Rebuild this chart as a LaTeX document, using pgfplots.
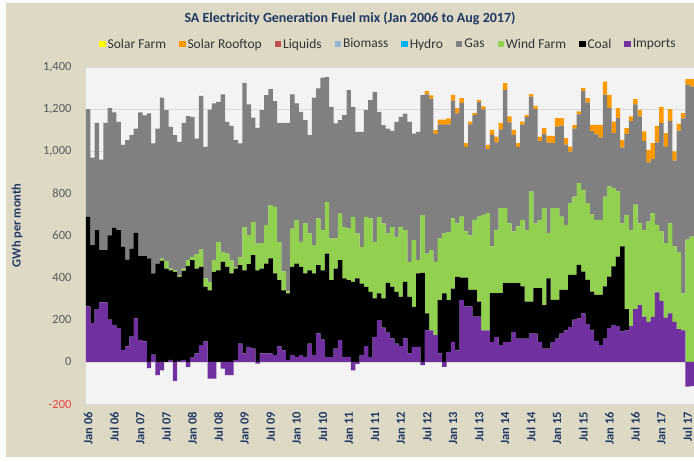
\documentclass[border=0pt]{standalone}
\usepackage{fontspec}
\setmainfont{Carlito}
\usepackage{pgfplots}
\usepackage{pgfplotstable}
\pgfplotsset{compat=1.18}
\definecolor{bgbeige}{RGB}{221,217,196}
\definecolor{plotbg}{RGB}{243,243,243}
\definecolor{navy}{RGB}{31,56,100}
\definecolor{cSolarFarm}{RGB}{255,255,0}
\definecolor{cRoof}{RGB}{255,153,0}
\definecolor{cLiq}{RGB}{192,80,77}
\definecolor{cBio}{RGB}{149,179,215}
\definecolor{cHydro}{RGB}{0,176,240}
\definecolor{cGas}{RGB}{128,128,128}
\definecolor{cWind}{RGB}{146,208,80}
\definecolor{cCoal}{RGB}{0,0,0}
\definecolor{cImp}{RGB}{112,48,160}
\definecolor{tickgray}{RGB}{89,89,89}
\definecolor{negred}{RGB}{232,64,64}

\pgfplotstableread{
m imp coal wind gas hydro bio liq roof sfarm
0 263 426 0 511 0 0 0 0 0
1 185 369 0 416 0 0 0 0 0
2 250 375 0 510 0 0 0 0 0
3 282 248 0 430 0 0 0 0 0
4 282 248 0 605 0 0 0 0 0
5 200 401 0 604 0 0 0 0 0
6 176 460 0 549 0 0 0 0 0
7 160 465 0 515 0 0 0 0 0
8 57 489 0 484 0 0 0 0 0
9 73 413 0 567 0 0 0 0 0
10 120 418 0 538 0 0 0 0 0
11 206 407 0 495 0 0 0 0 0
12 105 397 0 683 0 0 0 0 0
13 97 405 0 668 0 0 0 0 0
14 -30 491 0 689 0 0 0 0 0
15 35 385 0 617 0 0 0 0 0
16 -63 467 0 641 0 0 0 0 0
17 -40 480 10 765 0 0 0 0 0
18 0 443 37 715 0 0 0 0 0
19 10 425 8 673 0 0 0 0 0
20 -90 427 8 641 0 0 0 0 0
21 5 399 6 635 0 0 0 0 0
22 10 422 11 692 0 0 0 0 0
23 -25 454 29 684 0 0 0 0 0
24 20 463 16 664 0 0 0 0 0
25 40 403 67 550 0 0 0 0 0
26 80 371 82 730 0 0 0 0 0
27 97 259 40 625 0 0 0 0 0
28 -79 340 40 818 0 0 0 0 0
29 -79 427 56 744 0 0 0 0 0
30 0 435 135 665 0 0 0 0 0
31 -32 475 47 748 0 0 0 0 0
32 -63 451 63 626 0 0 0 0 0
33 -63 420 63 637 0 0 0 0 0
34 8 435 8 602 0 0 0 0 0
35 87 372 40 538 0 0 0 0 0
36 40 395 206 684 0 0 0 0 0
37 71 393 138 620 0 0 0 0 0
38 63 444 158 495 0 0 0 0 0
39 -8 435 127 549 0 0 0 0 0
40 40 403 122 630 0 0 0 0 0
41 40 427 182 617 0 0 0 0 0
42 40 451 253 551 0 0 0 0 0
43 32 388 316 502 0 0 0 0 0
44 74 314 182 565 0 0 0 0 0
45 55 285 90 705 0 0 0 0 0
46 8 317 10 800 0 0 0 0 0
47 32 419 182 637 0 0 0 0 0
48 24 443 206 554 0 0 0 0 0
49 32 419 119 617 0 0 0 0 0
50 24 396 237 491 0 0 0 0 0
51 87 348 175 466 0 0 0 0 0
52 32 388 134 700 0 0 0 0 0
53 135 324 222 617 0 0 0 0 0
54 106 329 190 725 0 0 0 0 0
55 24 490 246 593 0 0 0 0 0
56 24 364 198 625 0 0 0 0 0
57 63 380 143 546 0 0 0 0 0
58 103 380 221 444 0 0 0 0 0
59 24 372 245 530 0 0 0 0 0
60 24 364 245 657 0 0 0 0 0
61 -40 380 309 522 0 0 0 0 0
62 -10 396 214 482 0 0 0 0 0
63 32 340 174 546 0 0 0 0 0
64 75 281 333 506 0 0 0 0 0
65 24 308 349 562 0 0 0 0 0
66 119 182 269 712 0 0 0 0 0
67 198 127 364 498 0 0 0 0 0
68 163 138 356 467 0 0 0 0 0
69 139 236 235 498 0 0 0 0 0
70 111 245 285 456 0 0 0 0 0
71 87 245 262 546 0 0 0 0 0
72 75 234 332 522 0 0 0 0 0
73 111 269 245 554 0 0 0 0 0
74 40 269 166 665 0 0 0 0 0
75 71 190 317 506 0 0 0 0 0
76 71 349 63 609 0 0 0 0 0
77 -16 422 275 569 0 0 0 0 0
78 150 80 284 756 0 0 0 15 0
79 150 0 380 720 0 0 0 15 0
80 127 0 348 607 0 0 0 18 0
81 40 253 293 542 0 0 0 22 0
82 -24 325 285 515 0 0 0 25 0
83 47 246 324 511 0 0 0 28 0
84 95 253 333 559 0 0 0 28 0
85 55 349 253 523 0 0 0 25 0
86 294 106 290 540 0 0 0 22 0
87 263 137 219 402 0 0 0 17 0
88 263 79 258 528 0 0 0 13 0
89 215 127 332 497 0 0 0 10 0
90 215 71 404 543 0 0 0 11 0
91 150 0 548 501 0 0 0 14 0
92 150 0 556 305 0 0 0 19 0
93 95 231 222 530 0 0 0 24 0
94 119 207 301 415 0 0 0 28 0
95 79 247 404 373 0 0 0 30 0
96 95 279 356 561 0 0 0 32 0
97 95 279 284 479 0 0 0 28 0
98 142 232 245 458 0 0 0 25 0
99 110 264 269 376 0 0 0 19 0
100 110 248 316 452 0 0 0 15 0
101 110 176 341 535 0 0 0 11 0
102 134 152 523 450 0 0 0 12 0
103 134 216 308 542 0 0 0 16 0
104 95 255 324 374 0 0 0 22 0
105 63 207 460 352 0 0 0 28 0
106 63 334 214 430 0 0 0 32 0
107 95 199 436 308 0 0 0 35 0
108 110 184 436 387 0 0 0 40 0
109 134 208 348 432 0 0 0 35 0
110 150 192 308 381 0 0 0 31 0
111 166 247 341 244 0 0 0 24 0
112 200 213 372 322 0 0 0 18 0
113 206 254 389 326 0 0 0 14 0
114 230 199 388 468 0 0 0 15 0
115 180 209 365 477 0 0 0 21 0
116 150 184 366 395 0 0 0 30 0
117 100 218 356 406 0 0 0 45 0
118 80 238 356 391 0 0 0 60 0
119 110 248 427 484 0 0 0 62 0
120 160 245 428 373 0 0 0 62 0
121 175 278 372 261 0 0 0 55 0
122 170 330 309 348 0 0 0 48 0
123 145 403 110 359 0 0 0 37 0
124 150 100 448 384 0 0 0 28 0
125 170 0 457 516 0 0 0 22 0
126 250 0 496 477 0 0 0 24 0
127 270 0 388 507 0 0 0 32 0
128 215 0 412 422 0 0 0 45 0
129 190 0 476 281 0 0 0 60 0
130 214 0 492 257 0 0 0 75 0
131 330 0 320 392 0 0 0 78 0
132 290 0 329 515 0 0 0 75 0
133 210 0 354 457 0 0 0 65 0
134 230 0 428 486 0 0 0 56 0
135 190 0 358 408 0 0 0 43 0
136 155 0 365 578 0 0 0 32 0
137 150 0 175 831 0 0 0 25 0
138 -117 0 580 736 0 0 0 27 0
139 -115 0 595 712 0 0 0 36 0
}\mix

\begin{document}
\begin{tikzpicture}[x=1pt,y=1pt]
\useasboundingbox (0,0) rectangle (694,461);
\fill[white!92!bgbeige] (0,0) rectangle (694,461);
\fill[bgbeige] (6,4) rectangle (694,458);
\node[font=\fontsize{14}{16}\selectfont\bfseries, text=navy] at (350,443) {SA Electricity Generation Fuel mix (Jan 2006 to Aug 2017)};
\begin{axis}[
  at={(86pt,57pt)}, anchor=south west,
  scale only axis, width=608pt, height=337pt,
  xmin=-0.5, xmax=139.5, ymin=-200, ymax=1400,
  ybar stacked, bar width=1.02,
  axis background/.style={fill=plotbg},
  axis line style={draw=none}, tick style={draw=none},
  ymajorgrids, major grid style={draw=black!15, line width=0.6pt},
  ytick={-200,0,200,400,600,800,1000,1200,1400},
  yticklabels={{\textcolor{negred}{-200}},0,200,400,600,800,{1,000},{1,200},{1,400}},
  yticklabel style={font=\fontsize{12.5}{14}\selectfont, text=tickgray, anchor=east, xshift=-11pt},
  xtick={0,6,...,138},
  xticklabels={Jan 06,Jul 06,Jan 07,Jul 07,Jan 08,Jul 08,Jan 09,Jul 09,Jan 10,Jul 10,Jan 11,Jul 11,Jan 12,Jul 12,Jan 13,Jul 13,Jan 14,Jul 14,Jan 15,Jul 15,Jan 16,Jul 16,Jan 17,Jul 17},
  xticklabel style={font=\fontsize{12.5}{14}\selectfont\bfseries, text=navy, rotate=90, anchor=east, inner sep=0pt},
  xticklabel shift=8pt,
  /pgf/number format/assume math mode=true,
  ylabel={GWh per month},
  ylabel style={font=\fontsize{12.5}{14}\selectfont\bfseries, text=navy, at={(axis description cs:-0.113,0.53)}, anchor=center},
  legend style={at={(axis description cs:0.4975,1.068)}, anchor=center, legend columns=9, draw=none, fill=none,
    font=\fontsize{13.5}{15}\selectfont, text=black!80,
    /tikz/every even column/.append style={column sep=11pt}},
  legend image code/.code={\draw[#1,draw=none] (0pt,-3.2pt) rectangle (6.4pt,3.2pt);},
  reverse legend,
]
\addplot[fill=cImp, draw=none] table[x=m, y expr={max(\thisrow{imp},0)}] {\mix};
\addplot[fill=cCoal, draw=none] table[x=m, y=coal] {\mix};
\addplot[fill=cWind, draw=none] table[x=m, y=wind] {\mix};
\addplot[fill=cGas, draw=none] table[x=m, y=gas] {\mix};
\addplot[fill=cHydro, draw=none] table[x=m, y=hydro] {\mix};
\addplot[fill=cBio, draw=none] table[x=m, y=bio] {\mix};
\addplot[fill=cLiq, draw=none] table[x=m, y=liq] {\mix};
\addplot[fill=cRoof, draw=none] table[x=m, y=roof] {\mix};
\addplot[fill=cSolarFarm, draw=none] table[x=m, y=sfarm] {\mix};
\legend{Imports, Coal, Wind Farm, Gas, Hydro, Biomass, Liquids, Solar Rooftop, Solar Farm}
\end{axis}
\begin{axis}[
  at={(86pt,57pt)}, anchor=south west,
  scale only axis, width=608pt, height=337pt,
  xmin=-0.5, xmax=139.5, ymin=-200, ymax=1400,
  hide axis, ybar, bar width=1.02,
]
\addplot[fill=cImp, draw=none] table[x=m, y expr={min(\thisrow{imp},0)}] {\mix};
\end{axis}
\end{tikzpicture}
\end{document}
